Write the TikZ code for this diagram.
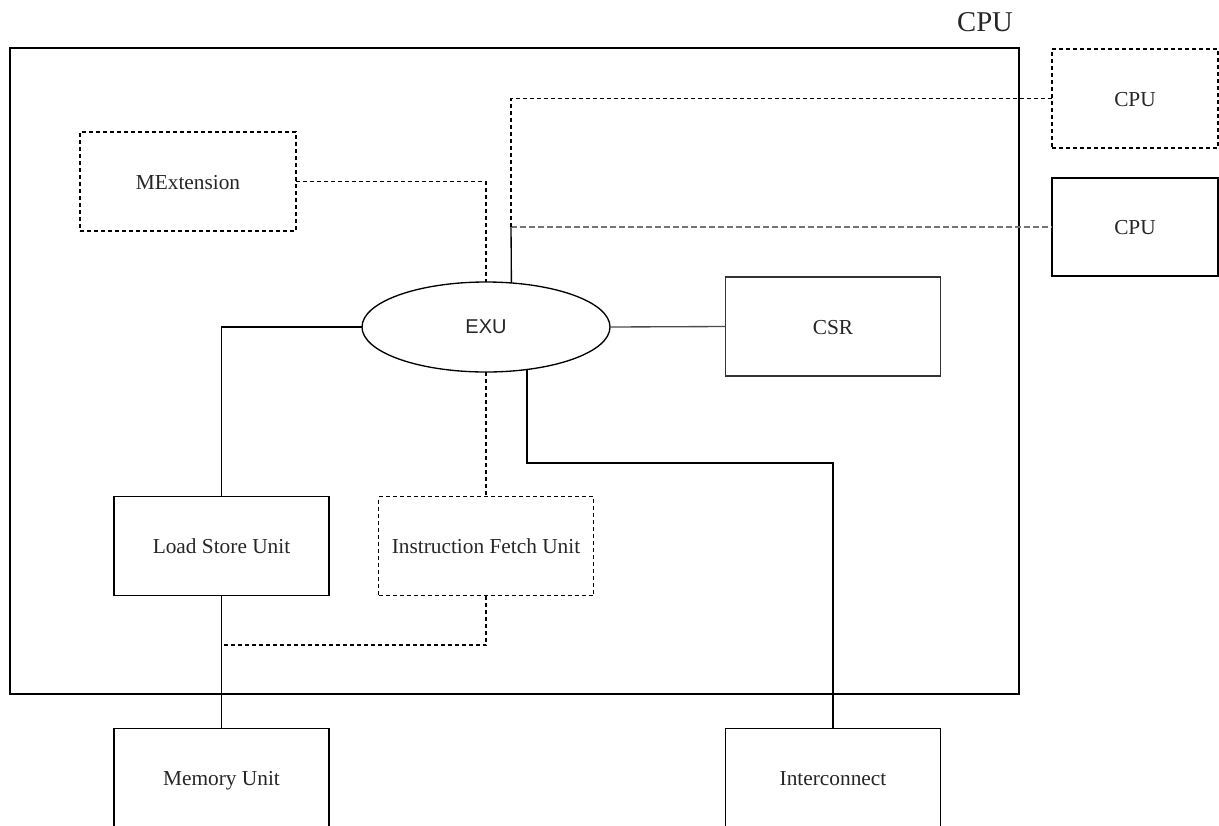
\documentclass[tikz,border=0pt]{standalone}
\usepackage{fontspec}
\setmainfont{Liberation Serif}
\newfontfamily\sansf{Liberation Sans}
\usetikzlibrary{shapes.geometric}
\begin{document}
\begin{tikzpicture}[x=0.75pt,y=-0.75pt,line width=1pt,
  box/.style={draw,rectangle,inner sep=0pt,outer sep=0pt,minimum width=161.25pt,minimum height=74.25pt,font=\fontsize{16}{19}\selectfont,text=black!85,text height=13.5pt,text depth=2pt},
  dbox/.style={box,dash pattern=on 3pt off 2.25pt},
  dline/.style={dash pattern=on 3pt off 2.25pt},
  gline/.style={black!55,line width=1.2pt,dash pattern=on 4.5pt off 2.25pt}]
\useasboundingbox (0,0) rectangle (1219,825);
\clip (0,0) rectangle (1219,825);
% outer CPU frame
\draw (10,48) rectangle (1019,694);
\node[font=\fontsize{21.5}{24}\selectfont,text=black!85] (title) at (985,22) {CPU};
% nodes
\node[dbox,minimum width=162pt] (mext) at (188,181.5) {MExtension};
\node[dbox,minimum width=124.5pt] (cpua) at (1135,98.5) {CPU};
\node[box,minimum width=124.5pt,minimum height=73.5pt] (cpub) at (1135,227) {CPU};
\node[draw,ellipse,inner sep=0pt,outer sep=0pt,minimum width=186pt,minimum height=67.5pt,font=\sansf\fontsize{15}{18}\selectfont,text=black!85] (exu) at (486,327) {EXU};
\node[box,draw=black!80] (csr) at (833,326.5) {CSR};
\node[box] (lsu) at (221.5,546) {Load Store Unit};
\node[dbox] (ifu) at (486,546) {Instruction Fetch Unit};
\node[box] (mem) at (221.5,778) {Memory Unit};
\node[box] (inter) at (833,778) {Interconnect};
% helper coordinates
\coordinate (j) at (511,227);
\coordinate (bend) at (833,463);
\coordinate (k) at (221.5,645);
% connectors
\draw[dline] (mext.east) -| (exu.north);
\draw (exu.60.4) -- (j);
\draw[gline] (j) -- (cpub.west);
\draw[dline] (j) |- (cpua.west);
\draw (exu.west) -| (lsu.north);
\draw[black!70] (exu.east) -- (csr.west);
\draw[dline] (exu.south) -- (ifu.north);
\draw (exu.-46) |- (bend) -- (inter.north);
\draw (lsu.south) -- (mem.north);
\draw[dline] (ifu.south) |- (k);
\end{tikzpicture}
\end{document}
